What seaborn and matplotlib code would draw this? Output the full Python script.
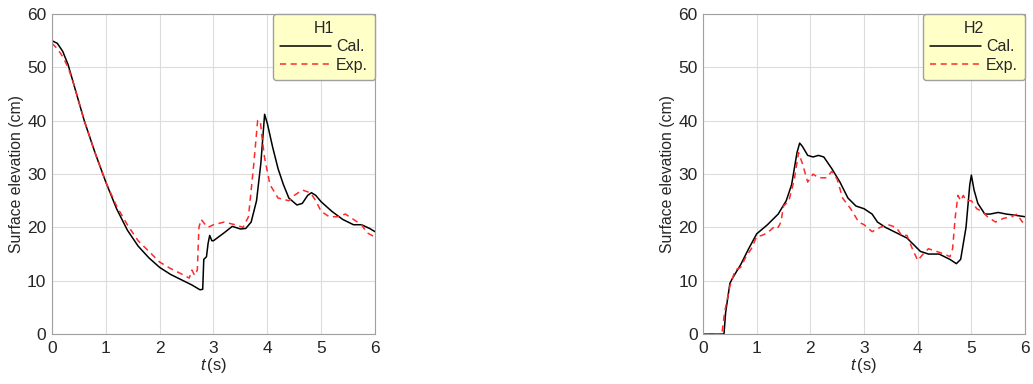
import numpy as np
import pandas as pd
import matplotlib
matplotlib.use("Agg")
import matplotlib.pyplot as plt
import seaborn as sns

# ── Data ──────────────────────────────────────────────────────────────────────
h1_cal_t = [0, 0.1, 0.2, 0.3, 0.4, 0.5, 0.6, 0.8, 1.0, 1.2, 1.4, 1.6, 1.8, 2.0, 2.2, 2.4, 2.6,
            2.75, 2.8, 2.82, 2.87, 2.9, 2.93, 2.97, 3.0, 3.2, 3.35, 3.5, 3.6, 3.7, 3.8, 3.88,
            3.95, 4.0, 4.1, 4.2, 4.3, 4.4, 4.55, 4.65, 4.75, 4.82, 4.9, 5.0, 5.2, 5.4, 5.6,
            5.75, 5.9, 6.0]
h1_cal_v = [55, 54.5, 53, 50.5, 47, 43.5, 40, 34, 28.5, 23.5, 19.5, 16.5, 14.3, 12.5, 11.2,
            10.2, 9.2, 8.3, 8.4, 14, 14.5, 17, 18.5, 17.5, 17.5, 19, 20.2, 19.7, 19.8, 21, 25,
            32, 41.2, 39.5, 35, 31, 28, 25.5, 24.2, 24.5, 26, 26.5, 26, 24.8, 23, 21.5, 20.5,
            20.5, 19.8, 19.2]

h1_exp_t = [0, 0.1, 0.2, 0.3, 0.4, 0.5, 0.6, 0.8, 1.0, 1.2, 1.4, 1.6, 1.8, 2.0, 2.2, 2.4,
            2.55, 2.6, 2.65, 2.7, 2.73, 2.77, 2.85, 2.9, 3.0, 3.2, 3.4, 3.55, 3.65, 3.75,
            3.82, 3.87, 3.9, 3.95, 4.05, 4.2, 4.4, 4.5, 4.65, 4.8, 4.9, 5.0, 5.15, 5.3, 5.45,
            5.6, 5.75, 5.85, 6.0]
h1_exp_v = [54.5, 53.5, 52, 50, 47, 43.5, 40, 34, 28.5, 24, 20.5, 17.5, 15.5, 13.5, 12.3,
            11.3, 10.5, 12, 11, 12, 20, 21.5, 20.5, 20, 20.5, 21, 20.5, 20, 22, 32, 40, 40,
            37, 33, 28, 25.5, 25, 26, 27, 26.5, 25, 23, 22, 22, 22.5, 21.5, 20.5, 19, 18.2]

h2_cal_t = [0, 0.39, 0.42, 0.5, 0.55, 0.7, 0.85, 1.0, 1.2, 1.4, 1.55, 1.65, 1.75, 1.8, 1.85,
            1.95, 2.05, 2.15, 2.25, 2.4, 2.55, 2.7, 2.85, 3.0, 3.15, 3.25, 3.4, 3.6, 3.8, 3.9,
            4.05, 4.2, 4.4, 4.6, 4.72, 4.8, 4.9, 4.97, 5.0, 5.05, 5.12, 5.25, 5.35, 5.5, 5.65,
            5.8, 6.0]
h2_cal_v = [0, 0, 4, 9.5, 10.5, 13, 16, 18.8, 20.5, 22.5, 25, 28, 34, 35.8, 35.2, 33.5, 33.2,
            33.5, 33.2, 31, 28.5, 25.5, 24, 23.5, 22.5, 21, 20, 19, 18, 17, 15.5, 15, 15, 14,
            13.2, 14, 20, 28, 29.8, 27, 24.5, 22.5, 22.5, 22.8, 22.5, 22.3, 22]

h2_exp_t = [0, 0.35, 0.4, 0.5, 0.6, 0.7, 0.8, 0.9, 1.0, 1.1, 1.2, 1.35, 1.4, 1.45, 1.5, 1.6,
            1.7, 1.78, 1.85, 1.95, 2.05, 2.15, 2.3, 2.4, 2.5, 2.6, 2.75, 2.9, 3.0, 3.15, 3.3,
            3.45, 3.6, 3.7, 3.8, 3.9, 4.0, 4.1, 4.2, 4.35, 4.5, 4.6, 4.65, 4.7, 4.75, 4.8,
            4.85, 4.9, 5.0, 5.1, 5.2, 5.3, 5.45, 5.6, 5.75, 5.85, 5.95, 6.0]
h2_exp_v = [0, 0, 4, 9, 12, 12.5, 14.5, 16, 18.3, 18.5, 19, 20.3, 20, 21, 24, 25, 29, 34, 32,
            28.5, 30, 29.3, 29.3, 30.5, 29, 25.5, 23.5, 21, 20.5, 19.2, 20, 20.5, 20, 18.5,
            18.5, 16, 13.8, 15, 16, 15.5, 15, 14.5, 16, 22, 26, 25, 26, 25, 25, 23.5, 23,
            22, 21, 21.7, 22, 22.5, 21, 21.5]

panels = [("H1", h1_cal_t, h1_cal_v, h1_exp_t, h1_exp_v),
          ("H2", h2_cal_t, h2_cal_v, h2_exp_t, h2_exp_v)]

# ── Style ─────────────────────────────────────────────────────────────────────
sns.set_style("whitegrid")
plt.rcParams["font.family"] = ["Liberation Sans", "DejaVu Sans"]
plt.rcParams["mathtext.fontset"] = "custom"
plt.rcParams["mathtext.it"] = "Liberation Sans:italic"
plt.rcParams["mathtext.rm"] = "Liberation Sans"

fig = plt.figure(figsize=(10.33, 3.84), dpi=100)
positions = [[0.0503, 0.130, 0.3127, 0.8335], [0.6806, 0.130, 0.3117, 0.8335]]

for pos, (name, ct, cv, et, ev) in zip(positions, panels):
    ax = fig.add_axes(pos)
    df = pd.concat([
        pd.DataFrame({"t": ct, "eta": cv, "kind": "Cal."}),
        pd.DataFrame({"t": et, "eta": ev, "kind": "Exp."}),
    ], ignore_index=True)
    sns.lineplot(data=df, x="t", y="eta", hue="kind", style="kind",
                 palette={"Cal.": "black", "Exp.": "#FF2A2A"},
                 dashes={"Cal.": "", "Exp.": (4, 3)},
                 linewidth=1.1, sort=False, ax=ax)
    ax.set_xlim(0, 6)
    ax.set_ylim(0, 60)
    ax.set_xticks(range(0, 7))
    ax.set_yticks(range(0, 61, 10))
    ax.grid(color="#DCDCDC", linewidth=0.8)
    for s in ax.spines.values():
        s.set_color("#A0A0A0")
        s.set_linewidth(0.8)
    ax.tick_params(labelsize=12.5, length=3, direction="in", color="#A0A0A0")
    ax.tick_params(axis="x", pad=5)
    ax.tick_params(axis="y", pad=4)
    ax.set_xlabel(r"$t\,$(s)", fontsize=12, labelpad=0)
    ax.set_ylabel("Surface elevation (cm)", fontsize=11.3, labelpad=2)
    leg = ax.legend(title=name, loc="upper right", borderaxespad=0,
                    fontsize=11.5, title_fontsize=11.5, handlelength=3.2,
                    fancybox=True, framealpha=1, borderpad=0.45,
                    labelspacing=0.2, handletextpad=0.3)
    leg.get_frame().set_facecolor("#FFFFC8")
    leg.get_frame().set_edgecolor("#A0A0A0")

fig.savefig("out.png", dpi=100)
